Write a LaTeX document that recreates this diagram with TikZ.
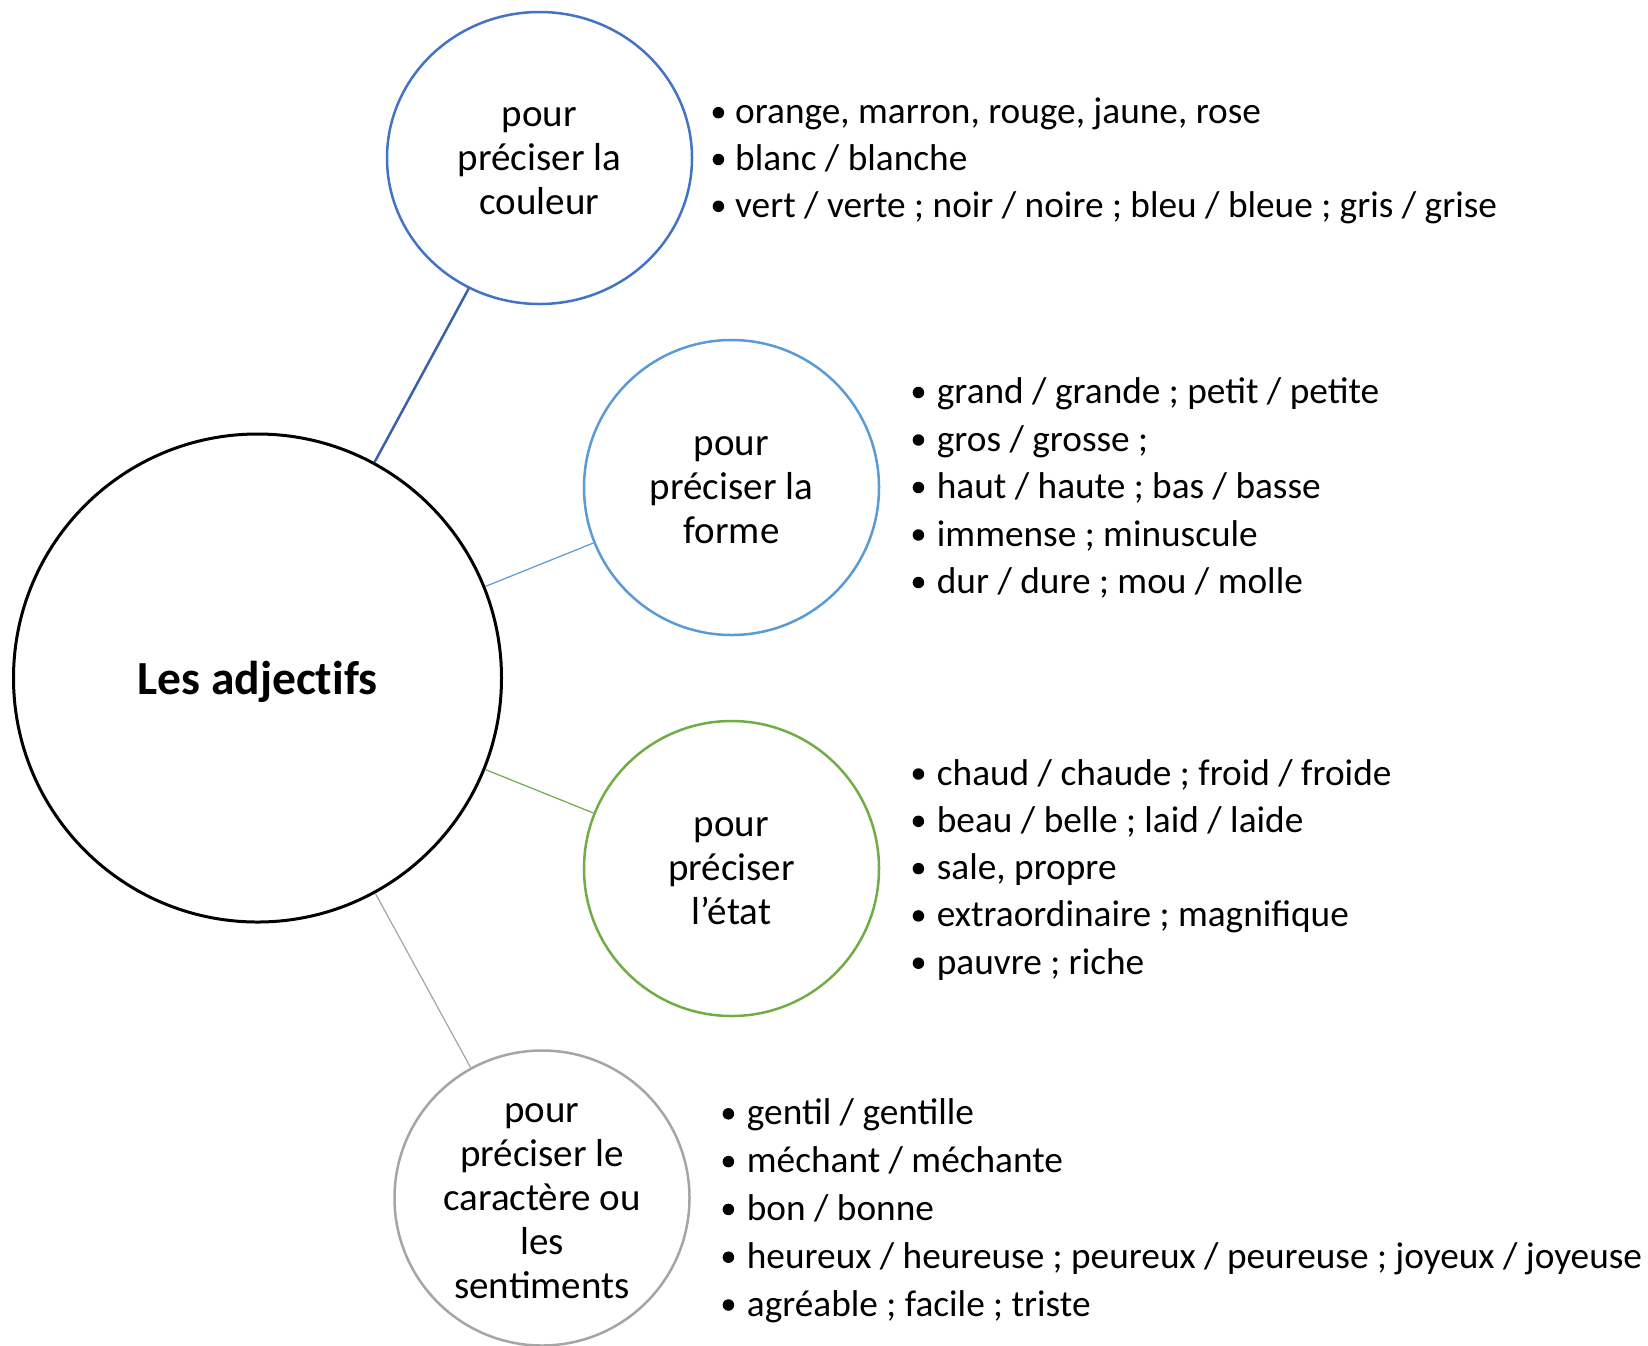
\documentclass[tikz,border=0pt]{standalone}
\usepackage{fontspec}
\setmainfont{Carlito}
\usetikzlibrary{shapes.geometric}
\definecolor{cblue}{HTML}{4472C4}
\definecolor{cblueline}{HTML}{3A62AC}
\definecolor{lblue}{HTML}{5B9BD5}
\definecolor{cgreen}{HTML}{70AD47}
\definecolor{cgray}{HTML}{A5A5A5}
\newcommand{\topstrut}{\rule{0pt}{25pt}}
\begin{document}
\begin{tikzpicture}[x=1pt,y=-1pt,
  bubble/.style={circle,draw,line width=2.5pt,align=center,minimum size=295pt,
    font=\fontsize{39}{44}\selectfont,inner sep=0pt},
  item/.style={anchor=base west,inner sep=0pt,font=\fontsize{37.3}{44}\selectfont},
  bul/.style={circle,fill=black,inner sep=0pt,minimum size=11.5pt}]
\useasboundingbox[fill=white] (0,0) rectangle (1648,1345);
% central circle
\node[circle,draw=black,line width=3pt,minimum size=488pt] (main) at (257.5,678) {};
\node[inner sep=0pt,font=\bfseries\fontsize{47.5}{56}\selectfont] (title) at (257.5,682) {Les adject\kern0pt ifs};
% satellite circles
\node[ellipse,draw=cblue,line width=2.5pt,minimum width=305pt,minimum height=292pt,
  align=center,inner sep=0pt,font=\fontsize{39}{44}\selectfont] (coul) at (539.5,158)
  {\topstrut pour\\préciser la\\couleur};
\node[bubble,draw=lblue] (forme) at (731.5,487.5) {\topstrut pour\\préciser la\\forme};
\node[bubble,draw=cgreen] (etat) at (731.5,868.5) {\topstrut pour\\préciser\\l’état};
\node[bubble,draw=cgray] (carac) at (542,1198) {\topstrut pour\\préciser le\\caractère ou\\les\\sentiments};
% connectors
\draw[cblueline,line width=2.5pt] (main) -- (coul);
\draw[lblue,line width=1.2pt] (main) -- (forme);
\draw[cgreen,line width=1.2pt] (main) -- (etat);
\draw[cgray,line width=1.2pt] (main) -- (carac);
% lists
\foreach \t [count=\i] in {{orange, marron, rouge, jaune, rose},{blanc / blanche},
  {vert / verte ; noir / noire ; bleu / bleue ; gris / grise}}{
  \node[bul] (cb\i) at ({718.4},{112.7+46.8*(\i-1)}) {};
  \node[item] (ct\i) at ({735},{123.7+46.8*(\i-1)}) {\t};
}
\foreach \t [count=\i] in {{grand / grande ; petit / petite},{gros / grosse ;},
  {haut / haute ; bas / basse},{immense ; minuscule},{dur / dure ; mou / molle}}{
  \node[bul] (fb\i) at ({918.4},{392.5+47.5*(\i-1)}) {};
  \node[item] (ft\i) at ({936.7},{403.5+47.5*(\i-1)}) {\t};
}
\foreach \t [count=\i] in {{chaud / chaude ; froid / froide},{beau / belle ; laid / laide},
  {sale, propre},{extraordinaire ; magnifique},{pauvre ; riche}}{
  \node[bul] (eb\i) at ({918.4},{774+47.3*(\i-1)}) {};
  \node[item] (et\i) at ({936.7},{785+47.3*(\i-1)}) {\t};
}
\foreach \t [count=\i] in {{gentil / gentille},{méchant / méchante},{bon / bonne},
  {heureux / heureuse ; peureux / peureuse ; joyeux / joyeuse},{agréable ; facile ; triste}}{
  \node[bul] (sb\i) at ({728.4},{1113.8+47.8*(\i-1)}) {};
  \node[item] (st\i) at ({746.7},{1124.8+47.8*(\i-1)}) {\t};
}
\end{tikzpicture}
\end{document}
